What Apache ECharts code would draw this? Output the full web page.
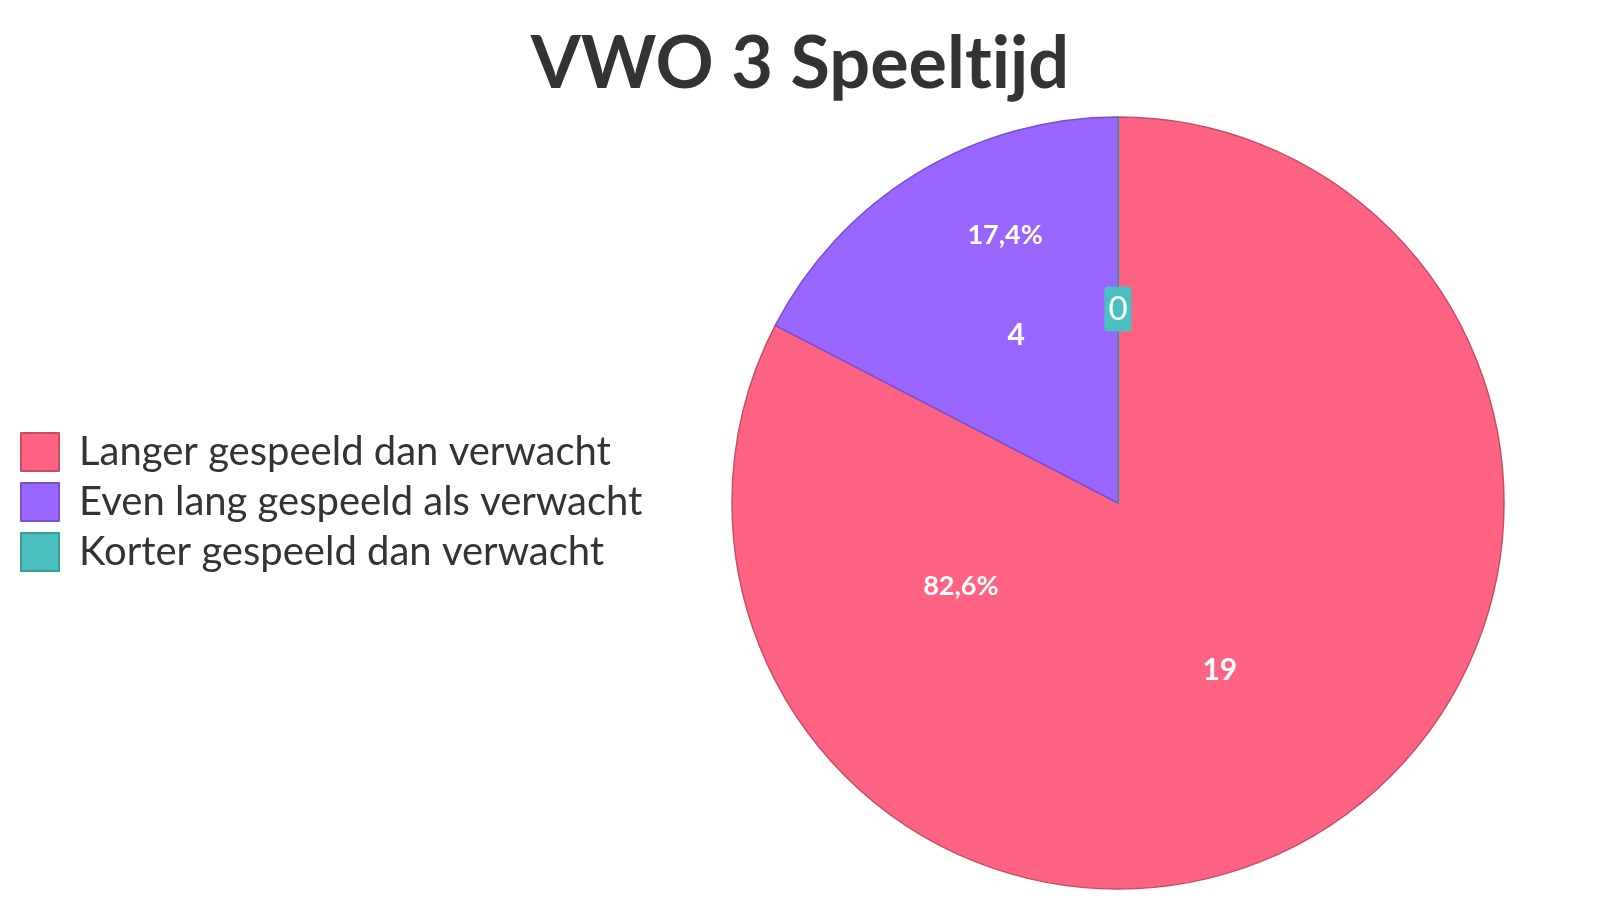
<!DOCTYPE html>
<html>
<head>
<meta charset="utf-8">
<script src="https://cdn.jsdelivr.net/npm/echarts@6/dist/echarts.min.js"></script>
<style>html,body{margin:0;padding:0;background:#fff}#c{width:1600px;height:900px}</style>
</head>
<body>
<div id="c"></div>
<script>
const titleText = 'VWO 3 Speelt\u200Cijd';
const categories = ['Langer gespeeld dan verwacht', 'Even lang gespeeld als verwacht', 'Korter gespeeld dan verwacht'];
const values = [19, 4, 0];
const colors = ['#FF6384', '#9966FF', '#4BC0C0'];
const borderColors = ['#C94D69', '#7A4FD2', '#3A9B9B'];
const pctOffsets = [[-259, -84], [-11, -100], [0, 0]];

const total = values.reduce((a, b) => a + b, 0);
const fmtPct = v => (v / total * 100).toFixed(1).replace('.', ',') + '%';

const chart = echarts.init(document.getElementById('c'));
const center = [1118, 503];
const radius = 386;

const valueData = categories.map((n, i) => ({
  name: n, value: values[i],
  itemStyle: { color: colors[i], borderColor: borderColors[i], borderWidth: 1.5 },
  label: values[i] === 0 ? {
    backgroundColor: colors[i], borderRadius: 3, padding: [7, 4, 5, 4],
    fontWeight: 'normal', fontSize: 33, offset: [0, 2]
  } : {}
}));
const pctData = categories.map((n, i) => ({
  name: n, value: values[i],
  label: { show: values[i] > 0, offset: pctOffsets[i] }
}));

chart.setOption({
  animation: false,
  title: {
    text: titleText, left: 'center', top: 24,
    textStyle: { fontFamily: 'Lato', fontWeight: 'bold', fontSize: 72, color: '#333333' }
  },
  legend: {
    orient: 'vertical', left: 20, top: 432, padding: 0,
    itemWidth: 38, itemHeight: 38, itemGap: 10,
    icon: 'rect',
    data: categories.map((n, i) => ({ name: n, itemStyle: { color: colors[i], borderColor: borderColors[i], borderWidth: 2 } })),
    textStyle: { fontFamily: 'Lato', fontSize: 40, lineHeight: 38, color: '#333333', padding: [0, 0, 0, 15] }
  },
  series: [
    {
      type: 'pie', center: center, radius: radius, startAngle: 90, clockwise: true,
      avoidLabelOverlap: false, stillShowZeroSum: true, minAngle: 0,
      label: {
        show: true, position: 'inside', formatter: p => String(p.value),
        color: '#ffffff', fontFamily: 'Lato', fontWeight: 'bold', fontSize: 30
      },
      labelLine: { show: false },
      emphasis: { disabled: true },
      data: valueData
    },
    {
      type: 'pie', center: center, radius: radius, startAngle: 90, clockwise: true,
      silent: true, avoidLabelOverlap: false,
      itemStyle: { color: 'rgba(0,0,0,0)', borderWidth: 0 },
      label: {
        show: true, position: 'inside', formatter: p => fmtPct(p.value),
        color: '#ffffff', fontFamily: 'Lato', fontWeight: 'bold', fontSize: 27
      },
      labelLine: { show: false },
      emphasis: { disabled: true },
      data: pctData
    }
  ]
});
</script>
</body>
</html>
